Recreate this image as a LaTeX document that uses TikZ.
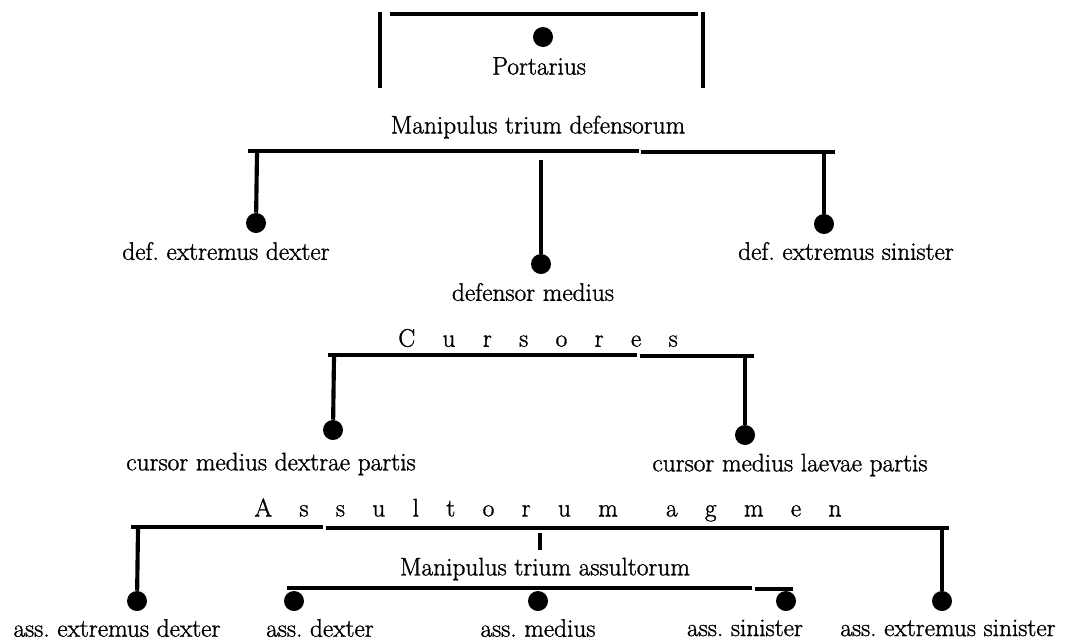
\documentclass[tikz,border=0pt]{standalone}
\usepackage{fontspec}
\setmainfont{Latin Modern Roman}[FakeBold=1.2]
\newcommand{\lsp}{\hspace{1.08em}}
\frenchspacing
\begin{document}
\begin{tikzpicture}[x=0.75pt,y=-0.75pt,
  bar/.style={line width=2.4pt},
  stem/.style={line width=3.1pt},
  dot/.style={circle,fill=black,inner sep=0pt,minimum size=15pt},
  lab/.style={font=\fontsize{19}{21}\selectfont,inner sep=0pt}]
\useasboundingbox (0,0) rectangle (1074,643);

% goal with the portarius
\coordinate (gl) at (380,12);
\coordinate (gr) at (703,12);
\draw[stem] (gl) -- ++(0,76);
\draw[stem] (gr) -- ++(0,76);
\draw[bar] (390,14) -- (698,14);
\node[dot] (port) at (543,37) {};
\node[lab] (portL) at (539,66) {Portarius};

% manipulus trium defensorum
\node[lab] (defH) at (538,127) {Manipulus trium defensorum};
\draw[bar] (248,151) -- (639,151);
\draw[bar] (641,152) -- (835,152);
\coordinate (dl) at (257,153);
\coordinate (dm) at (541,160);
\coordinate (dr) at (824,154);
\node[dot] (defDx) at (256,223) {};
\node[dot] (defMd) at (541,264) {};
\node[dot] (defSn) at (824,224) {};
\draw[stem] (dl) -- (defDx);
\draw[stem] (dm) -- (defMd);
\draw[stem] (dr) -- (defSn);
\node[lab] (defDxL) at (226,251) {def. extremus dexter};
\node[lab] (defMdL) at (533,292) {defensor medius};
\node[lab] (defSnL) at (846,251) {def. extremus sinister};

% cursores
\node[lab] (curH) at (538,338) {C\lsp u\lsp r\lsp s\lsp o\lsp r\lsp e\lsp s};
\draw[bar] (328,355) -- (637,355);
\draw[bar] (640,356) -- (754,356);
\coordinate (cl) at (334,357);
\coordinate (cr) at (745,358);
\node[dot] (curDx) at (333,430) {};
\node[dot] (curLv) at (745,435) {};
\draw[stem] (cl) -- (curDx);
\draw[stem] (cr) -- (curLv);
\node[lab] (curDxL) at (271,464) {cursor medius dextrae partis};
\node[lab] (curLvL) at (790,465) {cursor medius laevae partis};

% assultorum agmen
\node[lab] (assH) at (548,510) {A\lsp s\lsp s\lsp u\lsp l\lsp t\lsp o\lsp r\lsp u\lsp m\hspace{1.9em}a\lsp g\lsp m\lsp e\lsp n};
\draw[bar] (131,527) -- (323,527);
\draw[bar] (326,528) -- (949,528);
\coordinate (al) at (138,529);
\coordinate (ar) at (942,530);
\coordinate (am) at (540,533);
\coordinate (amb) at (540,550);
\draw[stem] (am) -- (amb);
\node[dot] (assExDx) at (137,601) {};
\node[dot] (assExSn) at (942,601) {};
\draw[stem] (al) -- (assExDx);
\draw[stem] (ar) -- (assExSn);

% manipulus trium assultorum
\node[lab] (assM) at (545,569) {Manipulus trium assultorum};
\draw[bar] (287,588) -- (752,588);
\draw[bar] (755,589) -- (793,589);
\node[dot] (assDx) at (294,601) {};
\node[dot] (assMd) at (538,601) {};
\node[dot] (assSn) at (786,601) {};
\node[lab] (assExDxL) at (117,628) {ass. extremus dexter};
\node[lab] (assDxL) at (320,628) {ass. dexter};
\node[lab] (assMdL) at (538,628) {ass. medius};
\node[lab] (assSnL) at (745,628) {ass. sinister};
\node[lab] (assExSnL) at (948,628) {ass. extremus sinister};
\end{tikzpicture}
\end{document}
